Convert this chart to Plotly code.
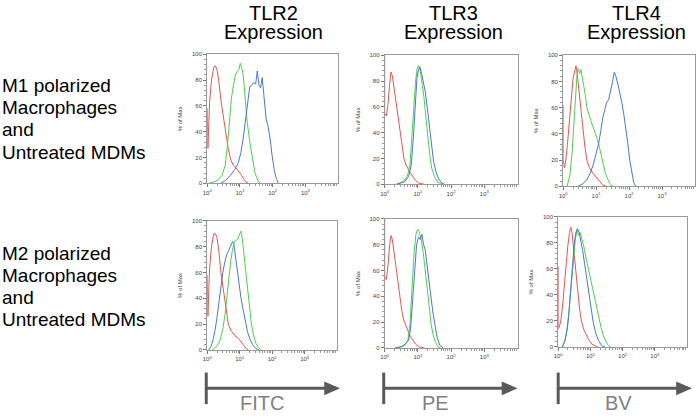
import numpy as np
import plotly.graph_objects as go

W, H = 696, 416

# ---- data: x in decades (log10 of fluorescence), y in % of max ----
# M1 / TLR2
m1_tlr2_red_x = [0, 0.02, 0.07, 0.13, 0.2, 0.25, 0.3, 0.36, 0.42, 0.48, 0.56, 0.64, 0.72, 0.8, 0.88, 0.95, 1.03, 1.1, 1.18, 1.27]
m1_tlr2_red_y = [58, 27, 62, 80, 90, 91, 88, 78, 64, 54, 40, 27, 18, 14, 12, 10, 7, 4, 1, 0]
m1_tlr2_green_x = [0.05, 0.3, 0.45, 0.55, 0.62, 0.68, 0.74, 0.8, 0.86, 0.92, 0.97, 1.01, 1.05, 1.1, 1.16, 1.22, 1.3, 1.38, 1.46, 1.55, 1.62]
m1_tlr2_green_y = [0, 2, 6, 14, 30, 50, 66, 76, 84, 87, 88, 93, 90, 84, 66, 48, 32, 18, 8, 2, 0]
m1_tlr2_blue_x = [0.4, 0.55, 0.7, 0.85, 0.95, 1.03, 1.1, 1.17, 1.24, 1.3, 1.36, 1.42, 1.48, 1.53, 1.58, 1.63, 1.68, 1.74, 1.8, 1.86, 1.92, 1.98, 2.05, 2.12, 2.18]
m1_tlr2_blue_y = [0, 2, 6, 11, 16, 24, 35, 48, 62, 75, 76, 78, 77, 87, 76, 74, 82, 66, 50, 44, 35, 22, 10, 3, 0]

# M1 / TLR3
m1_tlr3_red_x = [0, 0, 0.05, 0.1, 0.15, 0.19, 0.23, 0.28, 0.34, 0.4, 0.46, 0.52, 0.58, 0.64, 0.7, 0.77, 0.85, 0.93, 1.02, 1.12, 1.2]
m1_tlr3_red_y = [100, 55, 53, 62, 78, 87, 84, 75, 64, 52, 42, 30, 20, 15, 12, 9, 6, 3, 1, 0.5, 0]
m1_tlr3_green_x = [0.35, 0.55, 0.68, 0.76, 0.82, 0.88, 0.93, 0.98, 1.02, 1.07, 1.12, 1.18, 1.24, 1.3, 1.36, 1.42, 1.5, 1.58, 1.66, 1.74]
m1_tlr3_green_y = [0, 2, 6, 15, 38, 62, 80, 90, 92, 88, 80, 68, 52, 35, 22, 12, 6, 2, 1, 0]
m1_tlr3_blue_x = [0.35, 0.6, 0.72, 0.8, 0.86, 0.92, 0.97, 1.02, 1.06, 1.11, 1.16, 1.22, 1.28, 1.34, 1.4, 1.47, 1.55, 1.63, 1.72, 1.8]
m1_tlr3_blue_y = [0, 2, 6, 15, 35, 62, 82, 89, 91, 86, 80, 72, 60, 45, 30, 18, 9, 4, 1, 0]

# M1 / TLR4
m1_tlr4_red_x = [0, 0, 0.04, 0.08, 0.13, 0.19, 0.25, 0.3, 0.35, 0.39, 0.43, 0.48, 0.54, 0.6, 0.66, 0.72, 0.8, 0.9, 1.0, 1.1, 1.2, 1.32]
m1_tlr4_red_y = [62, 20, 14, 20, 32, 50, 68, 82, 88, 92, 85, 72, 58, 42, 30, 20, 14, 10, 7, 4, 1, 0]
m1_tlr4_green_x = [0.12, 0.2, 0.27, 0.33, 0.38, 0.42, 0.46, 0.5, 0.54, 0.58, 0.62, 0.67, 0.72, 0.78, 0.84, 0.9, 0.96, 1.02, 1.08, 1.14, 1.2, 1.28, 1.36, 1.44, 1.52]
m1_tlr4_green_y = [0, 8, 25, 50, 72, 85, 90, 86, 89, 84, 78, 70, 60, 54, 50, 46, 42, 37, 32, 25, 18, 10, 5, 1, 0]
m1_tlr4_blue_x = [0.45, 0.6, 0.72, 0.82, 0.92, 1.0, 1.08, 1.14, 1.2, 1.26, 1.32, 1.38, 1.44, 1.5, 1.55, 1.6, 1.66, 1.72, 1.78, 1.84, 1.9, 1.96, 2.02, 2.08, 2.14, 2.2]
m1_tlr4_blue_y = [0, 2, 5, 10, 17, 24, 33, 42, 52, 58, 64, 66, 72, 80, 87, 84, 78, 72, 64, 55, 45, 33, 20, 10, 3, 0]

# M2 / TLR2
m2_tlr2_red_x = [0, 0.02, 0.07, 0.13, 0.2, 0.25, 0.3, 0.36, 0.42, 0.49, 0.57, 0.65, 0.73, 0.81, 0.89, 0.96, 1.04, 1.12, 1.2, 1.27]
m2_tlr2_red_y = [58, 26, 62, 80, 90, 90, 87, 76, 60, 47, 32, 20, 15, 12, 10, 9, 6, 3, 1, 0]
m2_tlr2_blue_x = [0.05, 0.12, 0.18, 0.24, 0.3, 0.36, 0.42, 0.48, 0.54, 0.6, 0.66, 0.72, 0.78, 0.82, 0.87, 0.92, 0.98, 1.04, 1.1, 1.17, 1.24, 1.32, 1.4, 1.5, 1.6]
m2_tlr2_blue_y = [0, 3, 8, 15, 25, 38, 50, 60, 68, 74, 77, 80, 84, 82, 72, 62, 50, 40, 32, 22, 14, 8, 4, 1, 0]
m2_tlr2_green_x = [0.15, 0.3, 0.4, 0.48, 0.55, 0.6, 0.66, 0.72, 0.78, 0.84, 0.9, 0.95, 1.0, 1.04, 1.08, 1.13, 1.18, 1.24, 1.3, 1.36, 1.42, 1.5, 1.58, 1.66]
m2_tlr2_green_y = [0, 3, 8, 16, 28, 40, 55, 68, 78, 84, 85, 86, 90, 92, 86, 74, 60, 45, 32, 20, 12, 5, 2, 0]

# M2 / TLR3
m2_tlr3_red_x = [0, 0, 0.05, 0.1, 0.15, 0.19, 0.23, 0.28, 0.34, 0.4, 0.46, 0.52, 0.58, 0.64, 0.7, 0.77, 0.85, 0.93, 1.02, 1.12, 1.2]
m2_tlr3_red_y = [100, 55, 53, 64, 80, 87, 84, 74, 62, 50, 40, 28, 21, 17, 13, 9, 6, 3, 1, 0.5, 0]
m2_tlr3_green_x = [0.4, 0.6, 0.7, 0.76, 0.82, 0.88, 0.94, 0.99, 1.04, 1.1, 1.16, 1.22, 1.28, 1.34, 1.4, 1.46, 1.52, 1.6, 1.68]
m2_tlr3_green_y = [0, 2, 6, 18, 45, 72, 88, 92, 90, 84, 74, 60, 45, 30, 18, 10, 5, 1, 0]
m2_tlr3_blue_x = [0.3, 0.5, 0.62, 0.72, 0.78, 0.84, 0.9, 0.96, 1.02, 1.07, 1.12, 1.17, 1.22, 1.28, 1.34, 1.4, 1.46, 1.52, 1.58, 1.66, 1.76]
m2_tlr3_blue_y = [0, 1, 3, 6, 15, 35, 62, 80, 86, 84, 88, 80, 76, 62, 50, 38, 26, 16, 8, 2, 0]

# M2 / TLR4
m2_tlr4_red_x = [0, 0, 0.03, 0.08, 0.13, 0.18, 0.24, 0.3, 0.35, 0.39, 0.43, 0.48, 0.54, 0.6, 0.66, 0.72, 0.8, 0.88, 0.96, 1.05, 1.14, 1.22]
m2_tlr4_red_y = [62, 14, 15, 20, 30, 45, 62, 78, 88, 92, 88, 75, 58, 42, 30, 20, 13, 9, 5, 2, 1, 0]
m2_tlr4_blue_x = [0.12, 0.2, 0.27, 0.33, 0.39, 0.45, 0.5, 0.55, 0.6, 0.65, 0.7, 0.76, 0.82, 0.88, 0.94, 1.0, 1.08, 1.16, 1.25, 1.35, 1.45]
m2_tlr4_blue_y = [0, 4, 12, 25, 45, 65, 80, 88, 91, 88, 82, 74, 64, 54, 42, 32, 20, 11, 5, 1, 0]
m2_tlr4_green_x = [0.14, 0.22, 0.3, 0.36, 0.42, 0.48, 0.53, 0.58, 0.63, 0.68, 0.73, 0.79, 0.85, 0.9, 0.96, 1.02, 1.08, 1.14, 1.2, 1.26, 1.33, 1.4, 1.48, 1.56, 1.64]
m2_tlr4_green_y = [0, 6, 18, 35, 55, 72, 82, 90, 86, 88, 84, 78, 70, 64, 58, 52, 45, 38, 30, 22, 15, 9, 4, 1, 0]

col_titles = ["TLR2", "TLR3", "TLR4"]
row_labels = [["M1 polarized", "Macrophages", "and", "Untreated MDMs"],
              ["M2 polarized", "Macrophages", "and", "Untreated MDMs"]]
channels = ["FITC", "PE", "BV"]
y_ticks = [0, 20, 40, 60, 80, 100]
x_ticks = [1, 10, 100, 1000]
x_ticktext = ["10<sup>0</sup>", "10<sup>1</sup>", "10<sup>2</sup>", "10<sup>3</sup>"]

RED, GREEN, BLUE = "#ec5252", "#4fcf4f", "#4a78cc"
FONT = "Liberation Sans, Arial, sans-serif"

# panel boxes in pixels: left, right, top, bottom
boxes = [(204, 336, 52, 183), (383, 517, 53, 184), (563, 696, 53, 186),
         (204, 335, 221, 352), (383, 517, 219, 350), (558, 688, 217, 349)]

curves = [
    [(m1_tlr2_red_x, m1_tlr2_red_y, RED), (m1_tlr2_green_x, m1_tlr2_green_y, GREEN), (m1_tlr2_blue_x, m1_tlr2_blue_y, BLUE)],
    [(m1_tlr3_red_x, m1_tlr3_red_y, RED), (m1_tlr3_green_x, m1_tlr3_green_y, GREEN), (m1_tlr3_blue_x, m1_tlr3_blue_y, BLUE)],
    [(m1_tlr4_red_x, m1_tlr4_red_y, RED), (m1_tlr4_green_x, m1_tlr4_green_y, GREEN), (m1_tlr4_blue_x, m1_tlr4_blue_y, BLUE)],
    [(m2_tlr2_red_x, m2_tlr2_red_y, RED), (m2_tlr2_blue_x, m2_tlr2_blue_y, BLUE), (m2_tlr2_green_x, m2_tlr2_green_y, GREEN)],
    [(m2_tlr3_red_x, m2_tlr3_red_y, RED), (m2_tlr3_green_x, m2_tlr3_green_y, GREEN), (m2_tlr3_blue_x, m2_tlr3_blue_y, BLUE)],
    [(m2_tlr4_red_x, m2_tlr4_red_y, RED), (m2_tlr4_green_x, m2_tlr4_green_y, GREEN), (m2_tlr4_blue_x, m2_tlr4_blue_y, BLUE)],
]


def px(x):
    return x / W


def py(y):
    return 1 - y / H


minor_x = [m * 10 ** d for d in range(4) for m in range(2, 10)]

fig = go.Figure()
layout = {}
for i, (box, trio) in enumerate(zip(boxes, curves)):
    n = "" if i == 0 else str(i + 1)
    for lx, yy, c in trio:
        fig.add_trace(go.Scatter(x=10 ** np.array(lx), y=yy, mode="lines",
                                 line=dict(color=c, width=1),
                                 xaxis="x" + n, yaxis="y" + n,
                                 showlegend=False, hoverinfo="skip"))
    l, r, t, b = box
    layout["xaxis" + n] = dict(
        domain=[px(l), px(r)], anchor="y" + n, type="log", range=[0, 4],
        tickvals=x_ticks, ticktext=x_ticktext, ticks="outside", ticklen=3,
        tickcolor="#777", tickfont=dict(size=6, color="#444"),
        showline=True, linecolor="#999", mirror=True, showgrid=False,
        zeroline=False,
        minor=dict(tickmode="array", tickvals=minor_x, ticks="outside",
                   ticklen=2, tickcolor="#999"))
    layout["yaxis" + n] = dict(
        domain=[py(b), py(t)], anchor="x" + n, range=[0, 100],
        tickvals=y_ticks, ticks="outside", ticklen=3, tickcolor="#777",
        tickfont=dict(size=6, color="#444"),
        showline=True, linecolor="#999", mirror=True, showgrid=False,
        zeroline=False,
        title=dict(text="% of Max", font=dict(size=6, color="#444"), standoff=8),
        minor=dict(dtick=4, ticks="outside", ticklen=2, tickcolor="#999"))

annotations = []
title_cx = [271, 452, 637]
for cx, name in zip(title_cx, col_titles):
    annotations.append(dict(x=px(cx), y=py(10), text=name))
    annotations.append(dict(x=px(cx), y=py(29), text="Expression"))
for a in annotations:
    a.update(xref="paper", yref="paper", showarrow=False, xanchor="center",
             yanchor="middle", font=dict(size=20, color="black", family=FONT))

row_y0 = [84, 254]
for y0, lines in zip(row_y0, row_labels):
    for k, txt in enumerate(lines):
        annotations.append(dict(x=px(-5), y=py(y0 + 22.4 * k), text=txt, xref="paper",
                                yref="paper", showarrow=False, xanchor="left",
                                yanchor="middle",
                                font=dict(size=19, color="black", family=FONT)))

# channel arrows
shapes = []
arrow_x = [(203, 338), (382, 517), (558, 693)]
label_cx = [259, 434, 619]
for (a0, a1), cx, ch in zip(arrow_x, label_cx, channels):
    shapes.append(dict(type="line", xref="paper", yref="paper",
                       x0=px(a0), x1=px(a0), y0=py(375), y1=py(407),
                       line=dict(color="#5a5a5a", width=3)))
    shapes.append(dict(type="line", xref="paper", yref="paper",
                       x0=px(a0), x1=px(a1 - 12), y0=py(391), y1=py(391),
                       line=dict(color="#5a5a5a", width=3)))
    shapes.append(dict(type="path", xref="paper", yref="paper",
                       path="M {} {} L {} {} L {} {} Z".format(
                           px(a1 - 16), py(384), px(a1), py(391), px(a1 - 16), py(398)),
                       fillcolor="#5a5a5a", line=dict(color="#5a5a5a", width=0)))
    annotations.append(dict(x=px(cx), y=py(406), text=ch, xref="paper", yref="paper",
                            showarrow=False, xanchor="center", yanchor="middle",
                            font=dict(size=20, color="#7f7f7f", family=FONT)))

fig.update_layout(
    width=W, height=H, margin=dict(l=0, r=0, t=0, b=0),
    paper_bgcolor="white", plot_bgcolor="white",
    font=dict(family=FONT),
    annotations=annotations, shapes=shapes, **layout)

fig.write_html("out.html", config={"displayModeBar": False},
               post_script="document.body.style.margin='0';document.body.style.overflow='hidden';")
